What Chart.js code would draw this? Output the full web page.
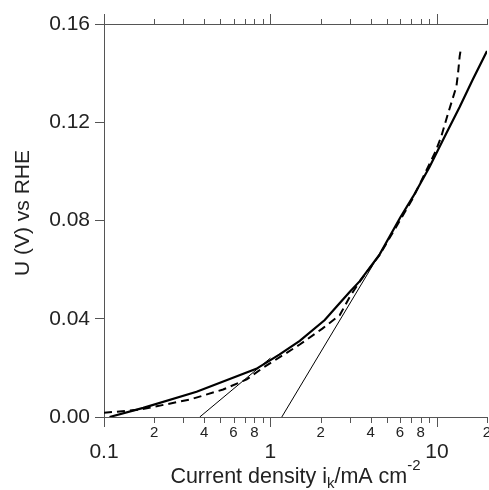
<!DOCTYPE html>
<html>
<head>
<meta charset="utf-8">
<script src="https://cdn.jsdelivr.net/npm/chart.js@4"></script>
<style>
  html, body { margin: 0; padding: 0; background: #fff; }
  #wrap { width: 489px; height: 490px; }
</style>
</head>
<body>
<div id="wrap"><canvas id="tafel" width="489" height="490"></canvas></div>
<script>
// values (current density in mA cm-2, U in V vs RHE)
const solidX = [0.108, 0.172, 0.36, 0.822, 1.13, 1.5, 2.12, 2.5, 3.0, 3.43, 4.53, 6.0, 7.2, 9.03, 11.3, 13.7, 16.4, 20];
const solidU = [0, 0.0037, 0.0103, 0.0196, 0.0254, 0.0310, 0.0395, 0.0450, 0.0510, 0.0552, 0.0662, 0.0810, 0.0898, 0.1018, 0.1150, 0.1262, 0.1373, 0.149];

const dashedX = [0.1, 0.164, 0.328, 0.52, 0.72, 0.9, 1.5, 2.05, 2.61, 3.0, 3.43, 4.53, 7.1, 9.8, 10.6, 11.6, 12.2, 13.1, 13.4, 13.7, 13.9];
const dashedU = [0.0017, 0.003, 0.0071, 0.0112, 0.0153, 0.020, 0.0295, 0.036, 0.0415, 0.049, 0.055, 0.066, 0.0885, 0.108, 0.114, 0.123, 0.1278, 0.1346, 0.140, 0.1468, 0.1495];

const tafel1X = [0.376, 1.0];
const tafel1U = [0, 0.024];
const tafel2X = [1.17, 4.8];
const tafel2U = [0, 0.0693];

const xTickValues = [0.1, 0.2, 0.3, 0.4, 0.5, 0.6, 0.7, 0.8, 0.9, 1, 2, 3, 4, 5, 6, 7, 8, 9, 10, 20];
const xMajorLabels = [0.1, 1, 10];
const xMinorLabels = [0.2, 0.4, 0.6, 0.8, 2, 4, 6, 8, 20];
const yTickValues = [0, 0.04, 0.08, 0.12, 0.16];

const FONT = "'Liberation Sans', Arial, Helvetica, sans-serif";
const AXIS = "#555";
const TEXT = "#222";

const pts = (xs, ys) => xs.map((x, i) => ({ x: x, y: ys[i] }));

// log axis tick marks and labels, drawn from the scale's own pixel mapping
const axisPlugin = {
  id: "axisPlugin",
  afterDraw(chart) {
    const c = chart.ctx;
    const xs = chart.scales.x;
    const area = chart.chartArea;
    c.save();
    c.strokeStyle = AXIS;
    c.lineWidth = 1;
    xTickValues.forEach(v => {
      const px = Math.round(xs.getPixelForValue(v)) + 0.5;
      const major = xMajorLabels.includes(v);
      c.beginPath();
      c.moveTo(px, area.bottom);
      c.lineTo(px, area.bottom + (major ? 10 : 6));
      c.moveTo(px, area.top);
      c.lineTo(px, area.top - (major ? 10 : 5));
      c.stroke();
    });
    c.fillStyle = TEXT;
    c.textAlign = "center";
    c.textBaseline = "middle";
    c.font = "15px " + FONT;
    xMinorLabels.forEach(v => {
      const t = String(v >= 1 ? v : Math.round(v * 10));
      c.fillText(t.charAt(0), xs.getPixelForValue(v), area.bottom + 16);
    });
    c.font = "21px " + FONT;
    xMajorLabels.forEach(v => {
      c.fillText(String(v), xs.getPixelForValue(v), area.bottom + 35);
    });

    // x title with subscript / superscript
    const parts = [
      { t: "Current density i", f: 21.5, dy: 0 },
      { t: "k", f: 15, dy: 5 },
      { t: "/mA cm", f: 21.5, dy: 0 },
      { t: "-2", f: 15, dy: -13 }
    ];
    let w = 0;
    parts.forEach(p => { c.font = p.f + "px " + FONT; p.w = c.measureText(p.t).width; w += p.w; });
    let x0 = (area.left + area.right) / 2 - w / 2;
    c.textAlign = "left";
    c.textBaseline = "alphabetic";
    parts.forEach(p => {
      c.font = p.f + "px " + FONT;
      c.fillText(p.t, x0, 483 + p.dy);
      x0 += p.w;
    });

    // y title
    c.translate(23, 213);
    c.rotate(-Math.PI / 2);
    c.textAlign = "center";
    c.textBaseline = "middle";
    c.font = "21px " + FONT;
    c.fillText("U (V) vs RHE", 0, 0);
    c.restore();
  }
};

const ctx = document.getElementById("tafel").getContext("2d");
new Chart(ctx, {
  type: "scatter",
  data: {
    datasets: [
      { data: pts(solidX, solidU), borderColor: "#000", borderWidth: 2.2 },
      { data: pts(dashedX, dashedU), borderColor: "#000", borderWidth: 2, borderDash: [8, 5] },
      { data: pts(tafel1X, tafel1U), borderColor: "#000", borderWidth: 1 },
      { data: pts(tafel2X, tafel2U), borderColor: "#000", borderWidth: 1 }
    ]
  },
  options: {
    responsive: false,
    animation: false,
    showLine: true,
    layout: { padding: { left: 0, right: 2, top: 0, bottom: 0 } },
    elements: { point: { radius: 0 }, line: { tension: 0 } },
    plugins: { legend: { display: false }, tooltip: { enabled: false } },
    scales: {
      x: {
        type: "logarithmic",
        position: "bottom",
        min: 0.1,
        max: 20,
        afterBuildTicks: s => { s.ticks = xTickValues.map(v => ({ value: v })); },
        afterFit: s => { s.height = 73; },
        ticks: { display: false },
        grid: { display: false },
        border: { display: true, color: AXIS, width: 1 }
      },
      x2: {
        type: "logarithmic",
        position: "top",
        min: 0.1,
        max: 20,
        afterFit: s => { s.height = 24; },
        ticks: { display: false },
        grid: { display: false },
        border: { display: true, color: AXIS, width: 1 }
      },
      y: {
        min: 0,
        max: 0.16,
        afterBuildTicks: s => { s.ticks = yTickValues.map(v => ({ value: v })); },
        afterFit: s => { s.width = 104; },
        ticks: {
          color: TEXT,
          font: { family: FONT, size: 21 },
          padding: 5,
          callback: v => v.toFixed(2)
        },
        grid: { drawOnChartArea: false, tickLength: 9, tickColor: AXIS },
        border: { display: true, color: AXIS, width: 1 }
      }
    }
  },
  plugins: [axisPlugin]
});
</script>
</body>
</html>
